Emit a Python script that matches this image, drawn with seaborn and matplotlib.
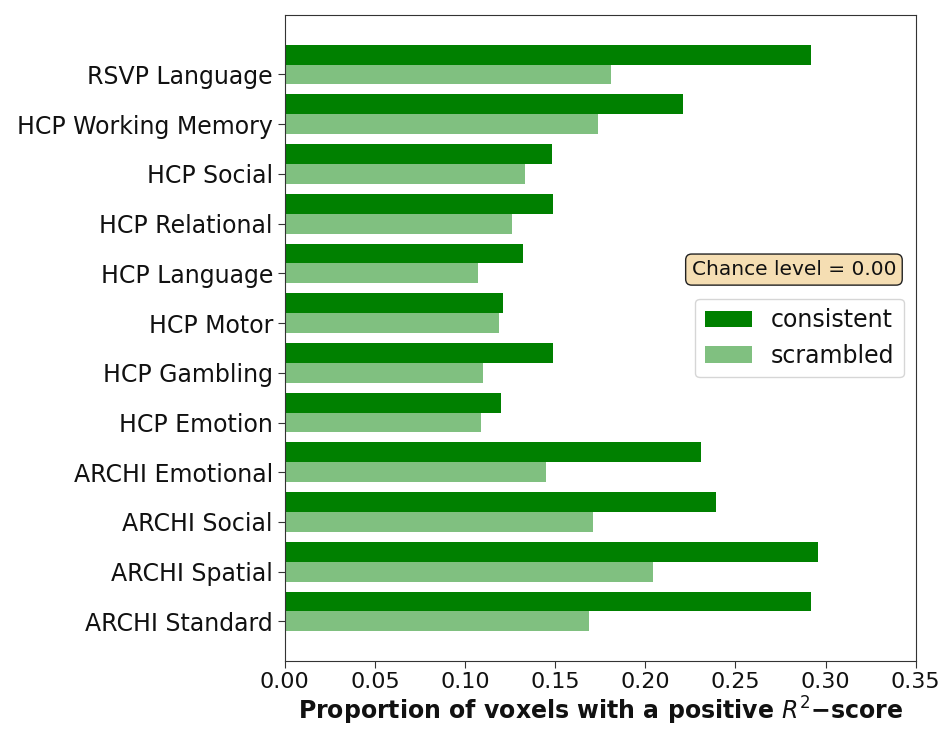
import numpy as np
import pandas as pd
import matplotlib
matplotlib.use("Agg")
import matplotlib.pyplot as plt
import seaborn as sns

# tasks, top to bottom
tasks = ["RSVP Language", "HCP Working Memory", "HCP Social", "HCP Relational",
         "HCP Language", "HCP Motor", "HCP Gambling", "HCP Emotion",
         "ARCHI Emotional", "ARCHI Social", "ARCHI Spatial", "ARCHI Standard"]
consistent = [0.292, 0.221, 0.148, 0.149, 0.132, 0.121, 0.149, 0.120,
              0.231, 0.239, 0.296, 0.292]
scrambled = [0.181, 0.174, 0.133, 0.126, 0.107, 0.119, 0.110, 0.109,
             0.145, 0.171, 0.204, 0.169]
conditions = ["consistent", "scrambled"]
colors = ["#008000", "#80c080"]
chance_level = 0.0

df = pd.DataFrame({
    "task": tasks * 2,
    "score": consistent + scrambled,
    "condition": ["consistent"] * len(tasks) + ["scrambled"] * len(tasks),
})

sns.set_style("ticks")
plt.rcParams["font.family"] = ["DejaVu Sans"]
plt.rcParams["text.color"] = "#111111"
plt.rcParams["xtick.color"] = "#111111"
plt.rcParams["ytick.color"] = "#111111"
plt.rcParams["axes.labelcolor"] = "#111111"

fig = plt.figure(figsize=(9.46, 7.3), dpi=100)
ax = fig.add_axes([0.301, 0.095, 0.667, 0.884])

sns.barplot(data=df, y="task", x="score", hue="condition", hue_order=conditions,
            palette=colors, orient="h", width=0.8, saturation=1,
            edgecolor="none", ax=ax)

# ticks sit on the scrambled bars
n = len(tasks)
ax.set_yticks(np.arange(n) + 0.2)
ax.set_yticklabels(tasks, fontsize=17)
ax.set_ylim(11.99, -0.99)
ax.set_ylabel("")

ax.set_xlim(0, 0.35)
ax.set_xticks(np.arange(0, 0.36, 0.05))
ax.set_xticklabels([f"{v:.2f}" for v in np.arange(0, 0.36, 0.05)], fontsize=16)
ax.set_xlabel("Proportion of voxels with a positive $R^2$\u2212score",
              fontsize=17, fontweight="bold", labelpad=2)

for s in ax.spines.values():
    s.set_visible(True)
    s.set_color("#333333")
ax.tick_params(axis="both", length=5, color="#333333")

ax.legend(title=None, loc="center right", fontsize=17)

ax.text(0.807, 0.606, f"Chance level = {chance_level:.2f}", transform=ax.transAxes,
        ha="center", va="center", fontsize=14.5,
        bbox=dict(boxstyle="round", facecolor="wheat", edgecolor="#222222"))

fig.savefig("out.png", dpi=100)
